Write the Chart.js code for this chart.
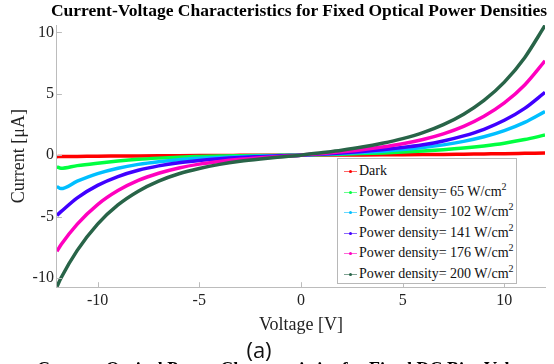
<!DOCTYPE html>
<html lang="en">
<head>
    <meta charset="UTF-8">
    <title>Current-Voltage Characteristics</title>
    <style>
        body { margin: 0; background: #fff; overflow: hidden; }
        #wrap { position: relative; width: 554px; height: 364px; font-family: "Liberation Serif", "Times New Roman", serif; }
        #chart { position: absolute; left: 0; top: 0; }
        #title { position: absolute; left: 40px; top: 0px; width: 518px; text-align: center; font-weight: bold; font-size: 17.5px; color: #000; white-space: nowrap; }
        #legend { position: absolute; left: 337px; top: 158px; width: 180px; height: 126px; border: 1px solid #b8b8b8; background: #fff; box-sizing: border-box; padding-top: 2px; }
        .row { height: 20.5px; line-height: 20.5px; font-size: 14px; color: #111; white-space: nowrap; position: relative; padding-left: 21px; }
        .row i { position: absolute; left: 6px; top: 10px; width: 13px; height: 1px; }
        .row b { position: absolute; left: 11px; top: 9px; width: 3px; height: 3px; border-radius: 50%; }
        .row sup { font-size: 10px; line-height: 0; }
        #sub { position: absolute; left: 230px; top: 334px; width: 58px; text-align: center; font-family: "Open Sans", sans-serif; font-size: 22px; color: #111; }
        #next { position: absolute; left: 37px; top: 359px; font-weight: bold; font-size: 18px; white-space: nowrap; color: #000; }
    </style>
</head>
<body>

    <div id="wrap">
        <canvas id="chart" width="554" height="364"></canvas>
        <div id="title">Current-Voltage Characteristics for Fixed Optical Power Densities</div>
        <div id="legend"></div>
        <div id="sub">(a)</div>
        <div id="next">Current-Optical Power Characteristics for Fixed DC Bias Voltage</div>
    </div>

    <script src="https://cdn.jsdelivr.net/npm/chart.js@4.4.1/dist/chart.umd.min.js"></script>
    <script>

        // bias voltage [V]
        var voltage = [-12, -11.8, -11, -10, -9, -8, -7, -6, -5, -4, -3, -2, -1, 0, 1, 2, 3, 4, 5, 6, 7, 8, 9, 10, 11, 12];

        // photocurrent [uA] for each optical power density
        var dark = [-0.12, -0.11, -0.1, -0.08, -0.07, -0.06, -0.05, -0.04, -0.03, -0.02, -0.015, -0.01, -0.005, 0, 0.005, 0.01, 0.02, 0.03, 0.04, 0.05, 0.06, 0.08, 0.1, 0.12, 0.15, 0.18];
        var pd65 = [-0.95, -1.07, -0.85, -0.65, -0.48, -0.34, -0.24, -0.16, -0.11, -0.07, -0.045, -0.027, -0.013, 0, 0.039, 0.081, 0.128, 0.184, 0.252, 0.337, 0.443, 0.579, 0.755, 0.978, 1.27, 1.64];
        var pd102 = [-2.55, -2.72, -2.12, -1.5, -1.06, -0.75, -0.53, -0.37, -0.26, -0.18, -0.12, -0.07, -0.034, 0, 0.067, 0.139, 0.223, 0.326, 0.455, 0.621, 0.838, 1.125, 1.5, 2.0, 2.67, 3.56];
        var pd141 = [-4.9, -4.6, -3.47, -2.46, -1.74, -1.23, -0.87, -0.61, -0.43, -0.29, -0.19, -0.12, -0.055, 0, 0.09, 0.187, 0.301, 0.442, 0.621, 0.852, 1.16, 1.57, 2.11, 2.84, 3.81, 5.12];
        var pd176 = [-7.83, -7.3, -5.61, -4.02, -2.88, -2.05, -1.47, -1.04, -0.73, -0.51, -0.34, -0.21, -0.1, 0, 0.135, 0.281, 0.451, 0.663, 0.931, 1.28, 1.74, 2.35, 3.17, 4.26, 5.72, 7.68];
        var pd200 = [-10.7, -10.0, -7.75, -5.61, -4.05, -2.93, -2.11, -1.51, -1.08, -0.75, -0.5, -0.31, -0.15, 0, 0.2, 0.41, 0.66, 0.97, 1.35, 1.84, 2.49, 3.34, 4.46, 5.95, 7.94, 10.56];

        var seriesLabels = ['Dark', 'Power density= 65 W/cm', 'Power density= 102 W/cm', 'Power density= 141 W/cm', 'Power density= 176 W/cm', 'Power density= 200 W/cm'];
        var seriesColors = ['#ff0000', '#00ff40', '#00bfff', '#4000ff', '#ff00bf', '#286448'];
        var seriesData = [dark, pd65, pd102, pd141, pd176, pd200];

        var xTicks = [-10, -5, 0, 5, 10];
        var yTicks = [-10, -5, 0, 5, 10];

        var serif = '"Liberation Serif", "Times New Roman", serif';
        var axisGrey = '#bcbcbc';

        // tick marks point into the plot, like the original figure
        var innerTicks = {
            id: 'innerTicks',
            afterDatasetsDraw(chart) {
                var ctx = chart.ctx, a = chart.chartArea, x = chart.scales.x, y = chart.scales.y;
                ctx.save();
                ctx.strokeStyle = axisGrey;
                ctx.lineWidth = 1;
                ctx.beginPath();
                x.ticks.forEach(function (t) {
                    var px = Math.round(x.getPixelForValue(t.value)) + 0.5;
                    ctx.moveTo(px, a.bottom);
                    ctx.lineTo(px, a.bottom - 5);
                });
                y.ticks.forEach(function (t) {
                    var py = Math.round(y.getPixelForValue(t.value)) + 0.5;
                    ctx.moveTo(a.left, py);
                    ctx.lineTo(a.left + 5, py);
                });
                ctx.stroke();
                ctx.restore();
            }
        };

        var datasets = seriesData.map(function (vals, i) {
            return {
                label: seriesLabels[i],
                data: vals.map(function (v, j) { return { x: voltage[j], y: v }; }),
                borderColor: seriesColors[i],
                backgroundColor: seriesColors[i],
                borderWidth: 3.5,
                pointRadius: 0,
                cubicInterpolationMode: 'monotone',
                order: seriesData.length - i
            };
        });

        var chart = new Chart(document.getElementById('chart'), {
            type: 'line',
            data: { datasets: datasets },
            options: {
                responsive: false,
                animation: false,
                devicePixelRatio: 1,
                layout: { padding: { left: 8, right: 9, top: 25, bottom: 28 } },
                plugins: { legend: { display: false }, tooltip: { enabled: false } },
                scales: {
                    x: {
                        type: 'linear',
                        min: -12,
                        max: 12,
                        afterBuildTicks: function (s) { s.ticks = xTicks.map(function (v) { return { value: v }; }); },
                        ticks: { font: { family: serif, size: 16 }, color: '#222', padding: 4 },
                        grid: { drawOnChartArea: false, drawTicks: false },
                        border: { color: axisGrey },
                        title: { display: true, text: 'Voltage [V]', font: { family: serif, size: 18 }, color: '#222', padding: { top: 0, bottom: 0 } }
                    },
                    y: {
                        min: -10.75,
                        max: 10.6,
                        afterBuildTicks: function (s) { s.ticks = yTicks.map(function (v) { return { value: v }; }); },
                        ticks: { font: { family: serif, size: 16 }, color: '#222', padding: 3 },
                        grid: { drawOnChartArea: false, drawTicks: false },
                        border: { color: axisGrey },
                        title: { display: true, text: 'Current [\u03bcA]', font: { family: serif, size: 18 }, color: '#222', padding: { top: 0, bottom: 0 } }
                    }
                }
            },
            plugins: [innerTicks]
        });

        // legend box drawn in the lower right, sample line with a marker dot
        var legend = document.getElementById('legend');
        seriesLabels.forEach(function (lab, i) {
            var row = document.createElement('div');
            row.className = 'row';
            row.innerHTML = '<i style="background:' + seriesColors[i] + ';opacity:.6"></i><b style="background:' + seriesColors[i] + '"></b>' +
                lab + (i > 0 ? '<sup>2</sup>' : '');
            legend.appendChild(row);
        });

    </script>

</body>
</html>
